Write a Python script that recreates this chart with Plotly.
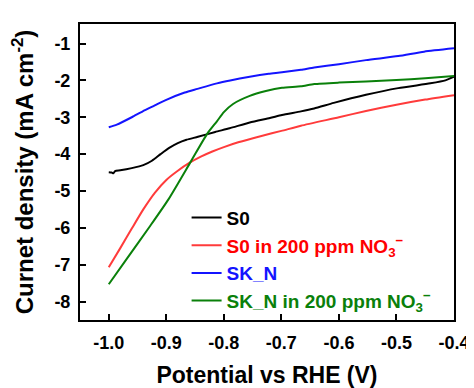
import plotly.graph_objects as go

# ---- data ----
s0_x = [-1.0, -0.995, -0.992, -0.989, -0.98, -0.96, -0.94, -0.925, -0.91, -0.895, -0.88, -0.865,
        -0.845, -0.815, -0.79, -0.755, -0.72, -0.699, -0.666, -0.643, -0.609, -0.553, -0.497,
        -0.441, -0.415, -0.4]
s0_y = [-4.49, -4.50, -4.52, -4.46, -4.44, -4.38, -4.30, -4.18, -4.00, -3.83, -3.70, -3.61,
        -3.53, -3.40, -3.30, -3.14, -3.02, -2.94, -2.84, -2.76, -2.61, -2.39, -2.21,
        -2.08, -2.00, -1.90]

s0n_x = [-1.0, -0.98, -0.96, -0.94, -0.92, -0.90, -0.88, -0.86, -0.84, -0.82, -0.80, -0.775,
         -0.733, -0.70, -0.666, -0.60, -0.553, -0.50, -0.45, -0.40]
s0n_y = [-7.07, -6.55, -6.02, -5.50, -5.05, -4.70, -4.45, -4.24, -4.07, -3.93, -3.81, -3.68,
         -3.50, -3.37, -3.23, -3.00, -2.83, -2.66, -2.52, -2.40]

skn_x = [-1.0, -0.986, -0.96, -0.941, -0.92, -0.902, -0.868, -0.846, -0.812, -0.789, -0.755, -0.722,
         -0.699, -0.666, -0.643, -0.6, -0.553, -0.497, -0.452, -0.4]
skn_y = [-3.27, -3.20, -3.00, -2.84, -2.68, -2.54, -2.33, -2.23, -2.08, -2.00, -1.90, -1.82,
         -1.78, -1.71, -1.65, -1.56, -1.45, -1.34, -1.22, -1.13]

sknn_x = [-1.0, -0.97, -0.93, -0.896, -0.857, -0.829, -0.812, -0.8, -0.784, -0.755, -0.727, -0.699,
          -0.666, -0.643, -0.6, -0.553, -0.5, -0.45, -0.4]
sknn_y = [-7.53, -6.87, -5.99, -5.22, -4.19, -3.45, -3.11, -2.86, -2.64, -2.42, -2.29, -2.20,
          -2.16, -2.10, -2.06, -2.03, -1.99, -1.94, -1.88]

x_ticks = [-1.0, -0.9, -0.8, -0.7, -0.6, -0.5, -0.4]
x_ticktext = ["-1.0", "-0.9", "-0.8", "-0.7", "-0.6", "-0.5", "-0.4"]
y_ticks = [-8, -7, -6, -5, -4, -3, -2, -1]
y_ticktext = ["-8", "-7", "-6", "-5", "-4", "-3", "-2", "-1"]

series = [
    (s0_x, s0_y, "#000000", "#000000", "S0"),
    (s0n_x, s0n_y, "#ff3b3b", "#ff0000", "S0 in 200 ppm NO<sub>3</sub><sup>−</sup>"),
    (skn_x, skn_y, "#1414ff", "#1414ff", "SK_N"),
    (sknn_x, sknn_y, "#0a800a", "#0a800a", "SK_N in 200 ppm NO<sub>3</sub><sup>−</sup>"),
]

fig = go.Figure()
for xs, ys, lc, tc, name in series:
    fig.add_trace(go.Scatter(
        x=xs, y=ys, mode="lines",
        line=dict(color=lc, width=2, shape="spline", smoothing=0.6),
        name=f'<span style="color:{tc}">{name}</span>',
    ))

font_family = "Liberation Sans, Arial, sans-serif"
axis_common = dict(
    showline=True, linecolor="black", linewidth=2, mirror=True,
    ticks="inside", ticklen=6, tickwidth=2, tickcolor="black",
    showgrid=False, zeroline=False,
    tickfont=dict(family=font_family, size=18, color="black", weight="bold"),
)

fig.update_layout(
    width=474, height=388,
    margin=dict(l=72, r=17, t=16, b=61),
    paper_bgcolor="white", plot_bgcolor="white",
    font=dict(family=font_family, color="black"),
    xaxis=dict(range=[-1.05, -0.4], tickvals=x_ticks, ticktext=x_ticktext,
               title=dict(text="<b>Potential vs RHE (V)</b>", font=dict(size=23, family=font_family)),
               ticklabelstandoff=5, **axis_common),
    yaxis=dict(range=[-8.5, -0.47], tickvals=y_ticks, ticktext=y_ticktext,
               title=dict(text="<b>Curnet density (mA cm<sup>-2</sup>)</b>", font=dict(size=24, family=font_family),
                          standoff=16),
               ticklabelstandoff=4, **axis_common),
    legend=dict(x=0.285, y=0.41, xanchor="left", yanchor="top",
                bgcolor="rgba(0,0,0,0)", borderwidth=0,
                font=dict(family=font_family, size=19, weight="bold")),
)

fig.write_html("out.html")
